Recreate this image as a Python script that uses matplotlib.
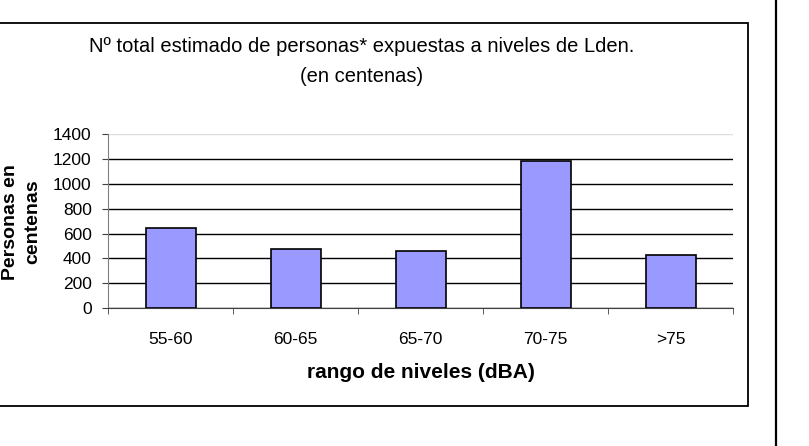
import matplotlib
matplotlib.use('Agg')
from matplotlib import pyplot as plt
from matplotlib.patches import Rectangle
from matplotlib.lines import Line2D

plt.rcParams['font.family'] = ['Liberation Sans', 'DejaVu Sans']

# data (personas, en centenas)
rangos = ['55-60', '60-65', '65-70', '70-75', '>75']
personas = [648, 478, 457, 1185, 428]
yticks = [0, 200, 400, 600, 800, 1000, 1200, 1400]

W, H = 809, 446
fig = plt.figure(figsize=(W / 100, H / 100), dpi=100)

# frame of the chart area (left edge is cropped off in the original)
fig.patches.append(Rectangle((-10 / W, 1 - 406 / H), 757.7 / W, (406 - 22.7) / H,
                             transform=fig.transFigure, fill=False,
                             edgecolor='black', lw=1.3))
# vertical rule on the right
fig.lines.append(Line2D([776 / W, 776 / W], [0, 1], transform=fig.transFigure,
                        color='black', lw=1.6))

ax = fig.add_axes([108.3 / W, 1 - 308 / H, 625 / W, 173.6 / H])
x = list(range(len(rangos)))
ax.bar(x, personas, width=0.4, color='#9999FF', edgecolor='black', lw=1.2, zorder=3)

ax.set_xlim(-0.5, len(rangos) - 0.5)
ax.set_ylim(0, 1400)
ax.set_yticks(yticks)
ax.set_yticklabels([str(v) for v in yticks], fontsize=12.5)
ax.set_xticks(x)
ax.set_xticklabels(rangos, fontsize=12.5)
ax.tick_params(axis='x', length=0, pad=17)
ax.set_xticks([i + 0.5 for i in range(-1, len(rangos))], minor=True)
ax.tick_params(axis='x', which='minor', length=4, direction='out', color='#404040')
ax.tick_params(axis='y', length=4, direction='out', color='#404040', pad=8)

ax.yaxis.grid(True, color='black', lw=1.0, zorder=0)
ax.get_ygridlines()[-1].set_color('#dddddd')
for s in ['top', 'right']:
    ax.spines[s].set_visible(False)
ax.spines['left'].set_color('#808080')
ax.spines['bottom'].set_color('#404040')

ax.set_xlabel('rango de niveles (dBA)', fontsize=15, fontweight='bold', labelpad=12)

fig.text(362 / W, 1 - 47 / H, 'Nº total estimado de personas* expuestas a niveles de Lden.',
         ha='center', va='center', fontsize=14.5)
fig.text(362 / W, 1 - 77 / H, '(en centenas)', ha='center', va='center', fontsize=14.5)

fig.text(22 / W, 1 - 222 / H, 'Personas en\ncentenas', rotation=90, ha='center', va='center',
         fontsize=14, fontweight='bold', multialignment='center', linespacing=1.4)

fig.savefig('out.png', dpi=100)
